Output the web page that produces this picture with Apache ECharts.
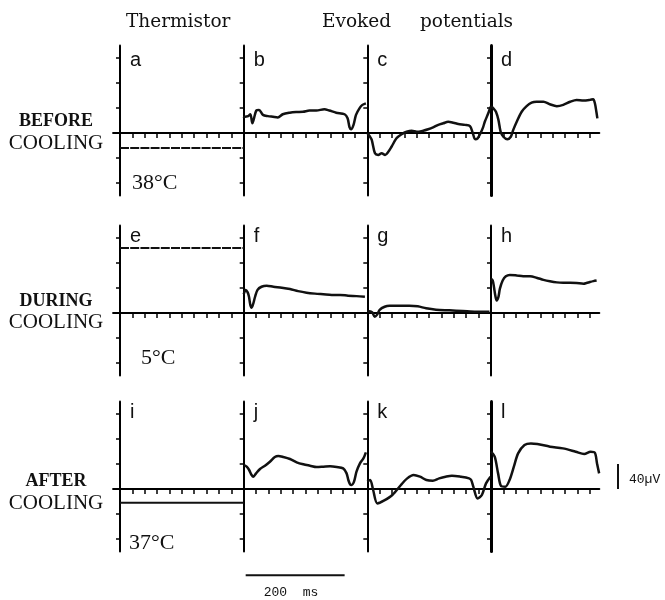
<!DOCTYPE html>
<html>
<head>
<meta charset="utf-8">
<title>Thermistor and evoked potentials</title>
<script src="https://cdn.jsdelivr.net/npm/echarts@6/dist/echarts.min.js"></script>
<style>
  html, body { margin: 0; padding: 0; background: #fff; }
  #chart { width: 665px; height: 600px; }
</style>
</head>
<body>
<div id="chart"></div>
<script>
// x = ms from sweep start, y = µV (one vertical tick = 40 µV)
const rowNames = [['BEFORE', 'COOLING'], ['DURING', 'COOLING'], ['AFTER', 'COOLING']];
const panelLetters = [['a', 'b', 'c', 'd'], ['e', 'f', 'g', 'h'], ['i', 'j', 'k', 'l']];
const temperatures = ['38°C', '5°C', '37°C'];

// thermistor trace level in each row (same vertical units)
const thermistorLevel = [-24, 104, -22];

const traceB = [[0, 24], [2, 26], [9, 27], [13.5, 30], [17.5, 15.5], [20, 21], [25.5, 36], [31, 37], [39, 29],
  [49, 27], [59, 26], [69, 25], [79, 30], [93, 32.5], [106, 33.6], [120, 34], [133, 36], [147, 36], [163, 38],
  [173, 36], [187, 32.5], [204, 30], [210, 23.5], [214, 9], [217, 6], [222, 13], [227, 29], [234, 39.5],
  [240, 45], [247, 47.5]];
const traceC = [[0, 0], [5.5, -6], [9, -11], [15.5, -32.5], [22, -35], [29, -32.5], [36, -35], [42.5, -30],
  [49, -22], [59, -8.5], [69.5, -2], [79.5, 2], [90, 3.7], [100, 2], [113, 3.7], [123, 6], [133, 9],
  [143.5, 13], [153.5, 15.5], [163.5, 18], [174, 16.5], [184, 14.4], [197.5, 13], [207.5, 11], [213, 0.5],
  [218, -10], [223, -8.5], [229, 0], [234, 9], [237.5, 18], [244.5, 31.5], [248, 39.5], [250, 42]];
const traceD = [[0, 42], [1.5, 42], [4.7, 39.5], [10, 34], [15, 21], [19.5, 2], [25, -6], [33, -10], [40, -6],
  [45, 5], [52, 18], [62, 34], [72, 43], [82, 48.5], [92, 50], [106, 50], [119, 46], [133, 43], [146, 45],
  [160, 50], [173, 53], [187, 52], [200, 53], [206.5, 54], [210, 47.5], [213, 34], [215, 23.5]];

const traceF = [[0, 30], [4, 37], [8, 33], [10.7, 26], [13.4, 12.8], [16, 8.5], [19.5, 15.5], [23, 26],
  [28, 37], [36, 42], [46.5, 43.7], [60, 42], [77, 40.5], [93.5, 38.4], [110, 35], [127, 32.5], [144, 31],
  [161, 30], [178, 29], [195, 29], [211, 27.7], [228, 27], [245, 26]];
const traceG = [[0, 2], [4.7, 3], [10, 1], [15, -6], [19.5, -3], [25, 5], [35, 10], [45, 11.7], [65, 11.7],
  [85, 11.7], [102, 10.7], [119, 7.5], [139, 5.3], [166, 4.3], [193, 3.2], [220, 2], [247, 2]];
const traceH = [[0, 55], [3.4, 52], [6, 41.6], [8.7, 28], [11.5, 20], [15, 25.6], [18, 39], [23.6, 52],
  [30, 58.7], [38, 61], [52, 60], [65, 58.7], [79, 58.7], [92, 56.5], [106, 53], [119, 50.7], [133, 49],
  [146, 48.5], [160, 48.5], [173, 48], [187, 47], [193, 48], [200, 49.6], [207, 51], [213.5, 52]];

const traceJ = [[0.6, 38.4], [6, 35.7], [11, 30.4], [16, 22.4], [19.5, 19.7], [25, 25], [33, 32], [43, 37.3],
  [53, 43.7], [63, 51.2], [70, 52.8], [80, 51.2], [93.6, 48], [107, 42.7], [120.5, 39.5], [134, 37.3],
  [147.5, 35.2], [161, 35.7], [174.5, 36.3], [188, 35.2], [201, 33], [208, 25], [211.5, 14.4], [215, 7.5],
  [218, 6.4], [223, 11.7], [228, 27.7], [235, 41], [242, 49], [247, 58.7]];
const traceK = [[0, 12], [5.7, 14.4], [11.8, -1.6], [20.4, -23], [33.4, -18.7], [50.6, -9.6], [68, 6.4],
  [80.7, 17], [93.6, 22.4], [106.5, 19.7], [119.5, 14.4], [132.4, 13.3], [145.3, 17], [158.3, 19.7],
  [171, 21.3], [188.6, 19.7], [205.8, 17], [210, 14.4], [214.3, 3.7], [223, -15], [231.6, -9.6], [240, 9],
  [249, 19.7]];
const traceL = [[0, 60], [7.5, 51.7], [14.3, 25], [20.3, 4.8], [29, 3.7], [37.5, 14.4], [46.2, 35.7],
  [54.8, 57], [67.7, 70.4], [80.7, 73], [93.6, 72], [119.5, 67.7], [145.3, 65], [171.2, 59.7], [188.4, 56],
  [201.3, 59.7], [210, 58], [214.3, 41], [218.6, 25]];

// calibration bars: 200 ms (under panel j) and 40 µV (right of panel l)
const timeBar = [[4, -138], [204, -138]];
const voltBar = [[0, 0], [0, 40]];

const yTicks = [-80, -40, 40, 80, 120];
const xTicks = [25, 50, 75, 100, 125, 150, 175, 200, 225];

// layout
const PX_PER_MS = 0.4947;
const PX_PER_UV = 0.625;
const columnLeft = [120, 243.7, 367.3, 491];
const rowZero = [133, 313, 489];
const columnXMax = [250, 250, 250, 219];
const Y_MIN = -100, Y_MAX = 140;

const panelTraces = [
  [null, traceB, traceC, traceD],
  [null, traceF, traceG, traceH],
  [null, traceJ, traceK, traceL]
];

const grids = [], xAxes = [], yAxes = [], series = [];
const ink = '#111';

for (let r = 0; r < 3; r++) {
  for (let c = 0; c < 4; c++) {
    const idx = r * 4 + c;
    const xMin = c === 0 ? -14 : 0;
    const xMax = columnXMax[c];
    grids.push({
      left: columnLeft[c] + xMin * PX_PER_MS,
      top: rowZero[r] - Y_MAX * PX_PER_UV,
      width: (xMax - xMin) * PX_PER_MS,
      height: (Y_MAX - Y_MIN) * PX_PER_UV,
      outerBoundsMode: 'none'
    });
    xAxes.push({
      type: 'value', gridIndex: idx, min: xMin, max: xMax,
      axisLine: { onZero: true, lineStyle: { color: '#000', width: 2 } },
      axisTick: { show: true, customValues: xTicks.filter(v => v < xMax), length: 5, lineStyle: { color: '#000', width: 1.5 } },
      axisLabel: { show: false },
      splitLine: { show: false }
    });
    yAxes.push({
      type: 'value', gridIndex: idx, min: Y_MIN, max: Y_MAX,
      axisLine: { show: true, onZero: true, lineStyle: { color: '#000', width: (c === 3 && r !== 1) ? 3 : 2 } },
      axisTick: { show: true, customValues: yTicks, length: 4, lineStyle: { color: '#000', width: 1.5 } },
      axisLabel: { show: false },
      splitLine: { show: false }
    });

    if (c === 0) {
      series.push({
        type: 'line', xAxisIndex: idx, yAxisIndex: idx,
        data: [[0, thermistorLevel[r]], [250, thermistorLevel[r]]],
        showSymbol: false, animation: false,
        lineStyle: { color: ink, width: 2.2, type: r === 2 ? 'solid' : [9, 1.2] }
      });
    } else {
      series.push({
        type: 'line', xAxisIndex: idx, yAxisIndex: idx,
        data: panelTraces[r][c],
        showSymbol: false, smooth: 0.3, animation: false,
        lineStyle: { color: ink, width: 2.5 }
      });
    }
  }
}

// extra hidden grid for the 40 µV calibration bar, same vertical scale as row 3
grids.push({
  left: 613, top: rowZero[2] - Y_MAX * PX_PER_UV, width: 10,
  height: (Y_MAX - Y_MIN) * PX_PER_UV, outerBoundsMode: 'none'
});
xAxes.push({ type: 'value', gridIndex: 12, min: -1, max: 1, show: false });
yAxes.push({ type: 'value', gridIndex: 12, min: Y_MIN, max: Y_MAX, show: false });

series.push({
  type: 'line', xAxisIndex: 9, yAxisIndex: 9, data: timeBar, clip: false,
  showSymbol: false, animation: false, lineStyle: { color: ink, width: 2 }
});
series.push({
  type: 'line', xAxisIndex: 12, yAxisIndex: 12, data: voltBar,
  showSymbol: false, animation: false, lineStyle: { color: ink, width: 2 }
});

// texts
const serif = '"Liberation Serif", serif';
const graphics = [];
function addText(text, x, y, font, size, opts) {
  graphics.push({
    type: 'text', x: x, y: y, silent: true,
    style: Object.assign({
      text: text, fill: '#111', fontFamily: font, fontSize: size,
      align: 'left', verticalAlign: 'middle'
    }, opts || {})
  });
}

addText('Thermistor', 126, 22.5, '"DejaVu Serif", serif', 18.5);
addText('Evoked', 322, 22.5, '"DejaVu Serif", serif', 18.5);
addText('potentials', 420, 22.5, '"DejaVu Serif", serif', 18.5);

const rowLabelY = [[121.6, 143.7], [301, 322], [481, 503.7]];
const tempX = [132, 141, 129];
const tempY = [183.4, 358.4, 543.4];
const letterY = [60.5, 236, 412];
for (let r = 0; r < 3; r++) {
  addText(rowNames[r][0], 56, rowLabelY[r][0], serif, 18, { align: 'center', fontWeight: 'bold' });
  addText(rowNames[r][1], 56, rowLabelY[r][1], serif, 21, { align: 'center' });
  addText(temperatures[r], tempX[r], tempY[r], serif, 22);
  for (let c = 0; c < 4; c++) {
    addText(panelLetters[r][c], columnLeft[c] + 10, letterY[r], '"Liberation Sans", sans-serif', 20);
  }
}
addText('200  ms', 291, 593, '"Liberation Mono", monospace', 13, { align: 'center' });
addText('40µV', 629, 480, '"Liberation Mono", monospace', 13);

const chart = echarts.init(document.getElementById('chart'), null, { renderer: 'canvas' });
chart.setOption({
  backgroundColor: '#fff',
  animation: false,
  grid: grids,
  xAxis: xAxes,
  yAxis: yAxes,
  series: series,
  graphic: graphics
});
</script>
</body>
</html>
